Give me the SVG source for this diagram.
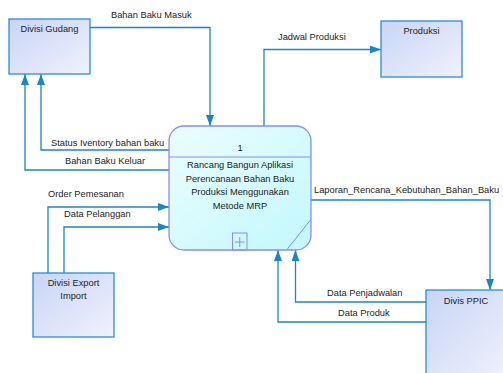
<svg xmlns="http://www.w3.org/2000/svg" width="503" height="373" viewBox="0 0 503 373">
<defs>
<linearGradient id="ent" x1="0" y1="0" x2="1" y2="1">
<stop offset="0" stop-color="#c8d5f5"/>
<stop offset="1" stop-color="#f0f2fd"/>
</linearGradient>
<linearGradient id="proc" x1="0" y1="0" x2="1" y2="1">
<stop offset="0" stop-color="#ecfdff"/>
<stop offset="1" stop-color="#c2f8fc"/>
</linearGradient>
<marker id="arr" markerUnits="userSpaceOnUse" markerWidth="12" markerHeight="10" refX="11" refY="4" orient="auto">
<path d="M0,0 L11,4 L0,8 Z" fill="#1a86c6"/>
</marker>
<style>
text{font-family:"Liberation Sans",Arial,sans-serif;font-size:9.3px;fill:#222;}
.ent{fill:url(#ent);stroke:#2a8fd0;stroke-width:1.3;}
.proc{fill:url(#proc);stroke:#8a8cf2;stroke-width:1.3;}
.pl{stroke:#8a8cf2;stroke-width:1;fill:none;}
.flow{fill:none;stroke:#1a86c6;stroke-width:1.3;}
.mid{text-anchor:middle;}
</style>
</defs>
<g id="connectors">
<path class="flow" d="M90,27.5 H210 V126" marker-end="url(#arr)"/>
<path class="flow" d="M169,150 H41 V74" marker-end="url(#arr)"/>
<path class="flow" d="M169,170 H25 V74" marker-end="url(#arr)"/>
<path class="flow" d="M264,126 V49.5 H381" marker-end="url(#arr)"/>
<path class="flow" d="M48,273 V207 H169" marker-end="url(#arr)"/>
<path class="flow" d="M64,273 V227 H169" marker-end="url(#arr)"/>
<path class="flow" d="M311,200 H490 V290" marker-end="url(#arr)"/>
<path class="flow" d="M426,302 H295.5 V250" marker-end="url(#arr)"/>
<path class="flow" d="M426,322 H278 V250" marker-end="url(#arr)"/>
<text x="111" y="18">Bahan Baku Masuk</text>
<text x="51" y="146">Status Iventory bahan baku</text>
<text x="65" y="164">Bahan Baku Keluar</text>
<text x="278" y="40">Jadwal Produksi</text>
<text x="48" y="197">Order Pemesanan</text>
<text x="64" y="217">Data Pelanggan</text>
<text x="314" y="193">Laporan_Rencana_Kebutuhan_Bahan_Baku</text>
<text x="327" y="296">Data Penjadwalan</text>
<text x="338" y="316">Data Produk</text>
</g>
<g id="divisi-gudang">
<rect class="ent" x="9" y="19" width="81" height="55"/>
<text class="mid" x="49.5" y="32">Divisi Gudang</text>
</g>
<g id="produksi">
<rect class="ent" x="381" y="21" width="81" height="56"/>
<text class="mid" x="421.5" y="34">Produksi</text>
</g>
<g id="divisi-export-import">
<rect class="ent" x="33" y="273" width="81" height="64"/>
<text class="mid" x="73.5" y="286">Divisi Export</text>
<text class="mid" x="73.5" y="299">Import</text>
</g>
<g id="divis-ppic">
<rect class="ent" x="426" y="290" width="82" height="90"/>
<text class="mid" x="466" y="304">Divis PPIC</text>
</g>
<g id="process-1">
<rect class="proc" x="169" y="126" width="142" height="124" rx="15" ry="15"/>
<line class="pl" x1="169" y1="157" x2="311" y2="157"/>
<line class="pl" x1="310.5" y1="220" x2="287" y2="249.5"/>
<rect class="pl" x="232.5" y="233" width="14.5" height="17"/>
<path class="pl" d="M239.75,237 V247 M235,242 H244.5"/>
<text class="mid" x="240" y="151">1</text>
<text class="mid" x="240" y="168">Rancang Bangun Aplikasi</text>
<text class="mid" x="240" y="181.5">Perencanaan Bahan Baku</text>
<text class="mid" x="240" y="195">Produksi Menggunakan</text>
<text class="mid" x="240" y="208.5">Metode MRP</text>
</g>
</svg>
